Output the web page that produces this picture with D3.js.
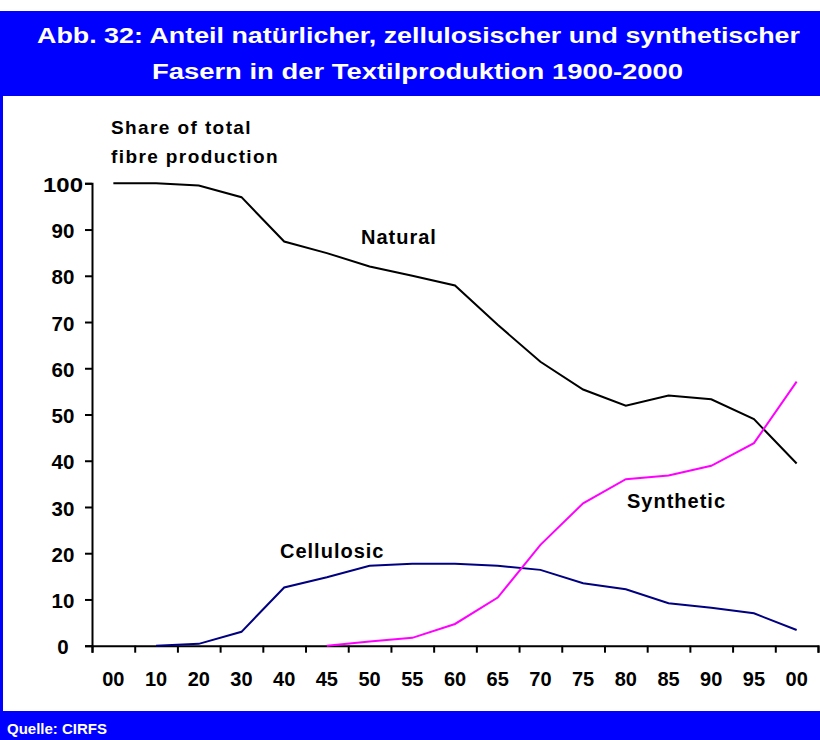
<!DOCTYPE html>
<html>
<head>
<meta charset="utf-8">
<script src="https://cdn.jsdelivr.net/npm/d3@7"></script>
<style>
  body { margin: 0; background: #fff; }
  svg { display: block; font-family: "Liberation Sans", Arial, sans-serif; font-weight: bold; }
</style>
</head>
<body>
<div id="chart"></div>
<script>
// category labels along the x axis (years 1900-2000)
const years = ["00", "10", "20", "30", "40", "45", "50", "55", "60", "65", "70", "75", "80", "85", "90", "95", "00"];
const yTicks = [0, 10, 20, 30, 40, 50, 60, 70, 80, 90, 100];

// share of total fibre production, %
const natural = [100, 100, 99.5, 97, 87.4, 84.9, 82, 80, 77.9, 69.4, 61.4, 55.4, 51.9, 54.1, 53.3, 49, 39.4];
const cellulosic = [null, 0, 0.4, 3, 12.6, 14.8, 17.3, 17.7, 17.7, 17.3, 16.4, 13.5, 12.2, 9.2, 8.2, 7, 3.4];
const synthetic = [null, null, null, null, null, 0, 0.9, 1.7, 4.7, 10.4, 21.8, 30.8, 36, 36.8, 38.9, 43.8, 57.1];

const width = 820;
const height = 740;
const blue = "#0000ff";

const svg = d3.select("#chart")
    .append("svg")
    .attr("width", width)
    .attr("height", height);

// frame: header, left strip, footer
svg.append("rect").attr("x", 0).attr("y", 11).attr("width", width).attr("height", 85).attr("fill", blue);
svg.append("rect").attr("x", 0).attr("y", 96).attr("width", 3).attr("height", 615).attr("fill", blue);
svg.append("rect").attr("x", 0).attr("y", 711).attr("width", width).attr("height", 29).attr("fill", blue);

// title glyphs are wide in the original, so stretch them to its width
svg.append("text")
    .attr("x", 37).attr("y", 43)
    .attr("textLength", 763)
    .attr("lengthAdjust", "spacingAndGlyphs")
    .attr("fill", "#fff")
    .style("font-size", "22px")
    .text("Abb. 32: Anteil natürlicher, zellulosischer und synthetischer");
svg.append("text")
    .attr("x", 152).attr("y", 79)
    .attr("textLength", 531)
    .attr("lengthAdjust", "spacingAndGlyphs")
    .attr("fill", "#fff")
    .style("font-size", "22px")
    .text("Fasern in der Textilproduktion 1900-2000");

svg.append("text")
    .attr("x", 7).attr("y", 734)
    .attr("fill", "#fff")
    .style("font-size", "15px")
    .text("Quelle: CIRFS");

// scales
let x = d3.scaleBand()
    .domain(d3.range(years.length))
    .range([92, 818]);

let y = d3.scaleLinear()
    .domain([0, 100])
    .range([645.7, 183.3]);

let cx = (i) => x(i) + x.bandwidth() / 2;

// y axis, labels centred in the left margin like the original
let yAxis = (g) =>
    g
        .attr("transform", "translate(92,0)")
        .call(d3.axisLeft(y).tickValues(yTicks).tickSize(7))
        .call((g) => g.selectAll("path, line").attr("stroke", "#000").attr("stroke-width", 2))
        .call((g) => g.selectAll("text")
            .attr("x", -29)
            .attr("dy", "0.4em")
            .attr("text-anchor", "middle")
            .attr("fill", "#000")
            .style("font-size", "20.5px")
            .style("font-family", "'Liberation Sans', Arial, sans-serif")
            .style("font-weight", "bold"))
        // the top label is drawn wider in the original
        .call((g) => g.selectAll(".tick text")
            .filter((d) => d === 100)
            .attr("textLength", 40)
            .attr("lengthAdjust", "spacingAndGlyphs"));

svg.append("g").call(yAxis);

// x axis: ticks at band edges, labels centred in bands
let xAxisLine = (g) =>
    g
        .attr("transform", "translate(0,645.7)")
        .call(d3.axisBottom(d3.scaleLinear().domain([0, years.length]).range([92, 818]))
            .tickValues(d3.range(years.length + 1))
            .tickSize(7)
            .tickSizeOuter(7)
            .tickFormat(""))
        .call((g) => g.selectAll("path, line").attr("stroke", "#000").attr("stroke-width", 2));

svg.append("g").call(xAxisLine);

svg.append("g")
    .selectAll("text")
    .data(years)
    .join("text")
    .attr("x", (d, i) => cx(i))
    .attr("y", 686)
    .attr("text-anchor", "middle")
    .style("font-size", "20px")
    .text((d) => d);

// series lines
let line = d3.line()
    .defined((d) => d != null)
    .x((d, i) => cx(i))
    .y((d) => y(d));

svg.append("path").datum(natural).attr("d", line)
    .attr("fill", "none").attr("stroke", "#000").attr("stroke-width", 2);
svg.append("path").datum(cellulosic).attr("d", line)
    .attr("fill", "none").attr("stroke", "#000080").attr("stroke-width", 2);
svg.append("path").datum(synthetic).attr("d", line)
    .attr("fill", "none").attr("stroke", "#ff00ff").attr("stroke-width", 2);

// handmade labels
let label = (tx, ty, s) =>
    svg.append("text")
        .attr("x", tx).attr("y", ty)
        .style("font-size", "20px")
        .style("letter-spacing", "1px")
        .text(s);

label(361, 244, "Natural");
label(280, 558, "Cellulosic");
label(627, 508, "Synthetic");

svg.append("text").attr("x", 111).attr("y", 134)
    .style("font-size", "19px").style("letter-spacing", "1.4px")
    .text("Share of total");
svg.append("text").attr("x", 111).attr("y", 163)
    .style("font-size", "19px").style("letter-spacing", "1.4px")
    .text("fibre production");
</script>
</body>
</html>
